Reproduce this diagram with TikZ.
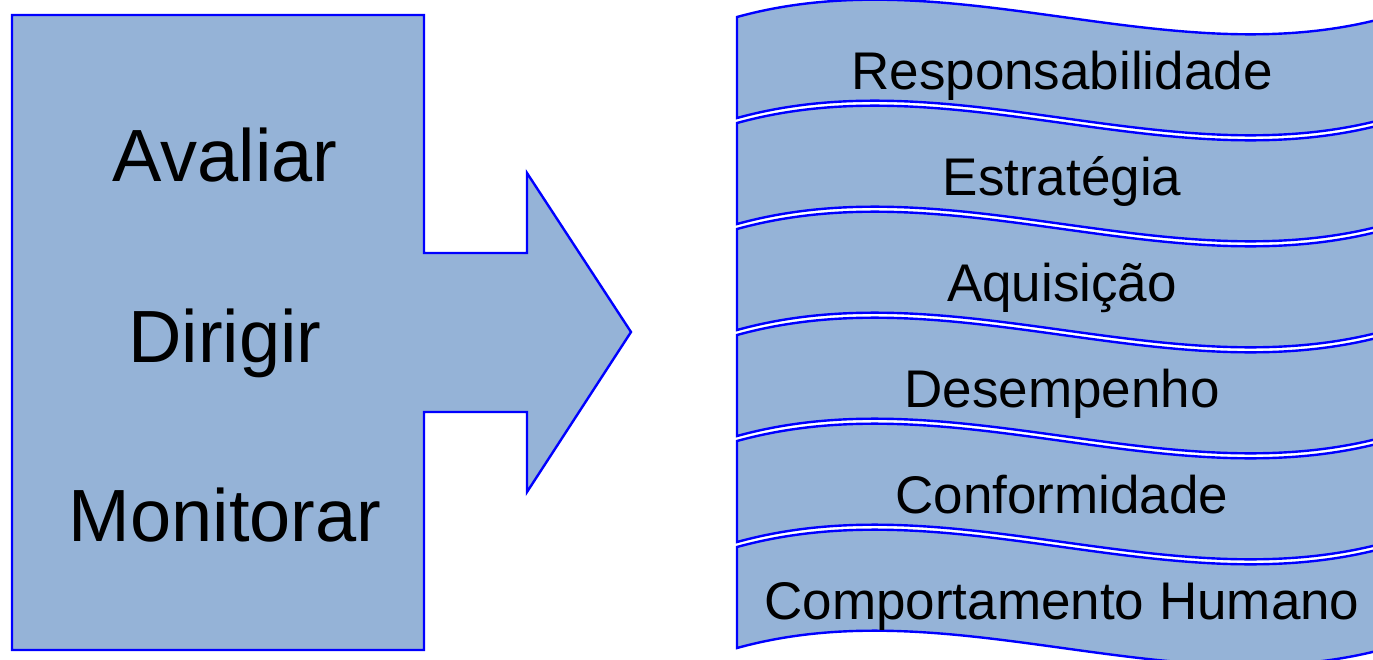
\documentclass[tikz,border=0pt]{standalone}
\usepackage{fontspec}
\setmainfont{Liberation Sans}
\definecolor{boxfill}{RGB}{149,179,215}
\definecolor{edge}{RGB}{0,0,255}
\tikzset{
  shapebox/.style={draw=edge, fill=boxfill, line width=2.4pt, line join=miter},
  bigtxt/.style={font=\fontsize{74}{80}\selectfont, anchor=base, inner sep=0pt},
  bantxt/.style={font=\fontsize{53}{60}\selectfont, anchor=base, inner sep=0pt},
}
\begin{document}
\begin{tikzpicture}[x=1pt,y=-1pt]
\useasboundingbox (0,0) rectangle (1373,659);
% left block with arrow
\draw[shapebox] (12,15) -- (424,15) -- (424,253) -- (527,253) -- (527,173)
  -- (631,332) -- (527,492) -- (527,412) -- (424,412) -- (424,650) -- (12,650) -- cycle;
\node[bigtxt] (avaliar) at (225,181) {Avaliar};
\node[bigtxt] (dirigir) at (225,362) {Dirigir};
\node[bigtxt] (monitorar) at (225,541) {Monitorar};
% banners
\foreach \i/\t in {0/Responsabilidade,1/Estratégia,2/Aquisição,3/Desempenho,4/Conformidade,5/Comportamento Humano}{
  \pgfmathsetmacro{\yt}{17+106*\i}
  \pgfmathsetmacro{\yb}{\yt+101}
  \draw[shapebox] (737,\yt) .. controls (954,\yt-60) and (1171,\yt+60) .. (1388,\yt)
    -- (1388,\yb) .. controls (1171,\yb+60) and (954,\yb-60) .. (737,\yb) -- cycle;
  \node[bantxt] (ban\i) at (1062,89+106*\i) {\t};
}
\end{tikzpicture}
\end{document}
